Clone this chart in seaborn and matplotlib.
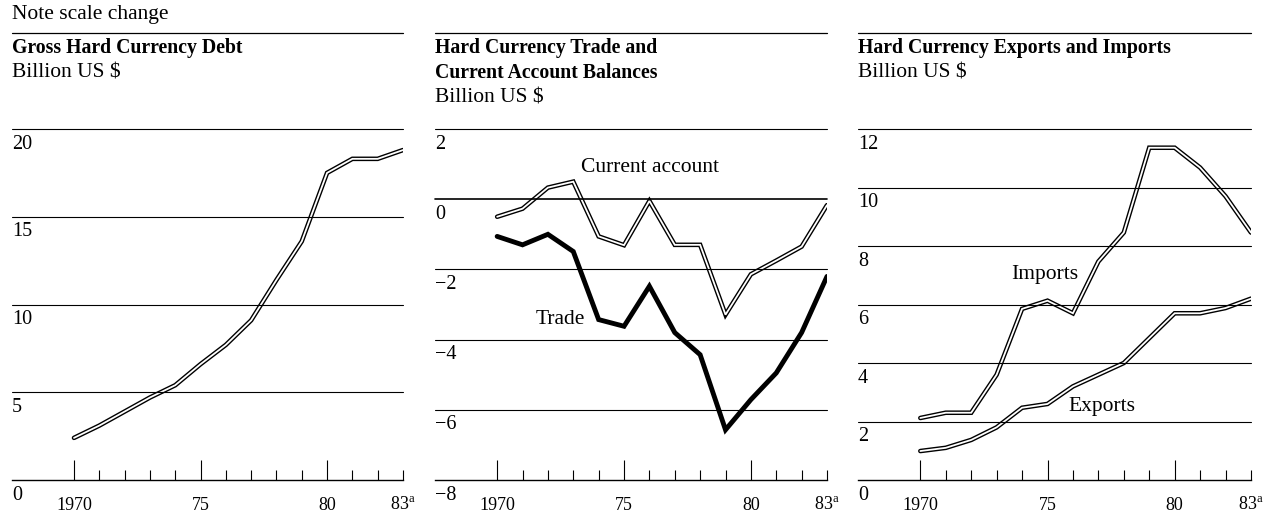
import matplotlib
matplotlib.use("Agg")
import matplotlib.pyplot as plt
import seaborn as sns

sns.set_theme(style="white")
plt.rcParams["font.family"] = ["Liberation Serif", "DejaVu Serif"]
plt.rcParams["mathtext.fontset"] = "custom"
plt.rcParams["mathtext.rm"] = "Liberation Serif"
plt.rcParams["text.color"] = "black"
plt.rcParams["xtick.color"] = "black"
plt.rcParams["xtick.labelcolor"] = "black"

# Werte (Mrd. US $)
years = list(range(1970, 1984))
debt = [2.4, 3.1, 3.9, 4.7, 5.4, 6.6, 7.7, 9.1, 11.4, 13.6, 17.5, 18.3, 18.3, 18.8]
current_account = [-0.5, -0.27, 0.33, 0.5, -1.06, -1.31, -0.05, -1.3, -1.3,
                   -3.29, -2.14, -1.75, -1.35, -0.17]
trade = [-1.06, -1.3, -1.0, -1.49, -3.43, -3.62, -2.48, -3.8, -4.43,
         -6.57, -5.71, -4.95, -3.8, -2.2]
imports = [2.12, 2.3, 2.3, 3.6, 5.85, 6.13, 5.7, 7.47, 8.46, 11.36, 11.36,
           10.68, 9.7, 8.46]
exports = [0.99, 1.1, 1.37, 1.8, 2.47, 2.6, 3.2, 3.6, 4.0, 4.85, 5.7, 5.7,
           5.88, 6.2]

debt_ticks = [0, 5, 10, 15, 20]
balance_ticks = [-8, -6, -4, -2, 0, 2]
trade_ticks = [0, 2, 4, 6, 8, 10, 12]

major_years = [1970, 1975, 1980]
major_labels = ["1970", "75", "80"]
minor_years = [y for y in years if y not in major_years]
minor_labels = ["83$^{\\mathrm{a}}$" if y == 1983 else "" for y in minor_years]

FS = 15.5      # normaler Text
FS_BOLD = 14.2 # fette Titel
FS_TICK = 14.5
W, H = 1264, 516


def frac_y(py):
    # Pixelhoehe -> Achsenanteil (Achse von y=129 bis y=480)
    return (480 - py) / 351


def double_line(ax, y):
    sns.lineplot(x=years, y=y, ax=ax, color="black", linewidth=3.3,
                 solid_capstyle="round", solid_joinstyle="miter", zorder=3)
    sns.lineplot(x=years, y=y, ax=ax, color="white", linewidth=1.3,
                 solid_capstyle="round", solid_joinstyle="miter", zorder=4)


def setup(ax, ticks, titles, zero_bold=False):
    ax.set_xlim(1967.55, 1983.0)
    ax.set_ylim(ticks[0], ticks[-1])
    for s in ["top", "left", "right"]:
        ax.spines[s].set_visible(False)
    ax.spines["bottom"].set_linewidth(1.0)
    ax.spines["bottom"].set_color("black")
    ax.set_yticks([])
    ax.set_xticks(major_years, labels=major_labels)
    ax.set_xticks(minor_years, labels=minor_labels, minor=True)
    ax.tick_params(axis="x", which="major", direction="in", length=14.4,
                   width=0.8, color="black", pad=12, labelsize=13,
                   bottom=True)
    ax.tick_params(axis="x", which="minor", direction="in", length=7.2,
                   width=0.8, color="black", pad=12, labelsize=13,
                   bottom=True)
    for t in ticks[1:]:
        lw = 1.2 if (zero_bold and t == 0) else 0.8
        ax.axhline(t, color="black", linewidth=lw, zorder=5, clip_on=False)
    for t in ticks:
        lab = str(t).replace("-", "\u2212")
        ax.annotate(lab, xy=(0, t), xycoords=("axes fraction", "data"),
                    xytext=(0, -4), textcoords="offset points",
                    ha="left", va="top", fontsize=FS_TICK)
    # Linie ueber dem Titel
    ax.plot([0, 1], [frac_y(33)] * 2, transform=ax.transAxes, color="black",
            linewidth=0.9, clip_on=False)
    ys = [48, 73, 98]
    for i, (txt, bold) in enumerate(titles):
        ax.text(0, frac_y(ys[i]), txt, transform=ax.transAxes, ha="left",
                va="center", fontsize=FS_BOLD if bold else FS,
                fontweight="bold" if bold else "normal")


fig = plt.figure(figsize=(W / 100, H / 100), dpi=100)
ax1 = fig.add_axes([12 / W, 36 / H, 391 / W, 351 / H])
ax2 = fig.add_axes([435 / W, 36 / H, 392 / W, 351 / H])
ax3 = fig.add_axes([858 / W, 36 / H, 393 / W, 351 / H])

# 1. Bruttoverschuldung
setup(ax1, debt_ticks, [("Gross Hard Currency Debt", True),
                        ("Billion US \\$", False)])
double_line(ax1, debt)
ax1.text(0, frac_y(15), "Note scale change", transform=ax1.transAxes,
         ha="left", va="center", fontsize=FS)

# 2. Handels- und Leistungsbilanz
setup(ax2, balance_ticks, [("Hard Currency Trade and", True),
                           ("Current Account Balances", True),
                           ("Billion US \\$", False)], zero_bold=True)
double_line(ax2, current_account)
sns.lineplot(x=years, y=trade, ax=ax2, color="black", linewidth=3.5,
             solid_joinstyle="miter", zorder=3)
ax2.text(1976.03, 0.91, "Current account", ha="center", va="center", fontsize=FS)
ax2.text(1972.5, -3.43, "Trade", ha="center", va="center", fontsize=FS)

# 3. Exporte und Importe
setup(ax3, trade_ticks, [("Hard Currency Exports and Imports", True),
                         ("Billion US \\$", False)])
double_line(ax3, imports)
double_line(ax3, exports)
ax3.text(1974.9, 7.02, "Imports", ha="center", va="center", fontsize=FS)
ax3.text(1977.14, 2.5, "Exports", ha="center", va="center", fontsize=FS)

for ax in (ax1, ax2, ax3):
    ax.set_xlabel("")
    ax.set_ylabel("")

fig.savefig("out.png", dpi=100)
